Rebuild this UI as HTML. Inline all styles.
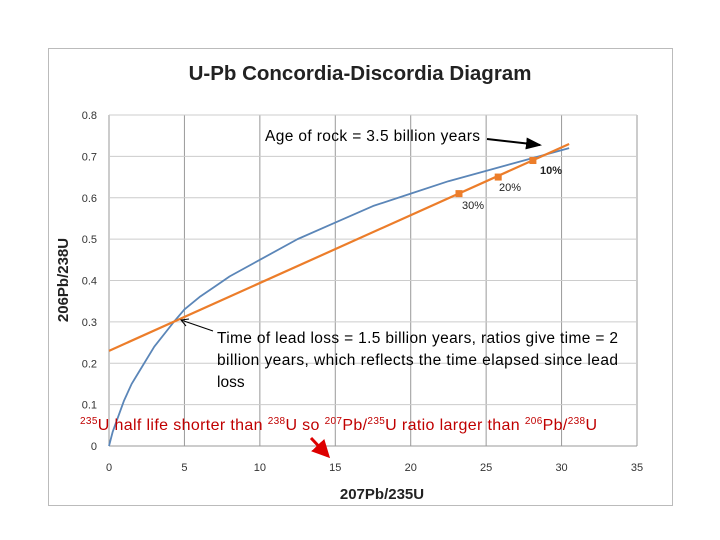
<!DOCTYPE html>
<html><head><meta charset="utf-8"><style>
body{margin:0;background:#fff;width:720px;height:540px;overflow:hidden;font-family:"Liberation Sans",sans-serif}
svg{position:absolute;left:0;top:0}
</style></head><body>
<svg width="720" height="540">
<defs>
<marker id="ah" markerWidth="8" markerHeight="8" refX="7" refY="4" orient="auto"><path d="M0,1 L8,4 L0,7 Z" fill="#000"/></marker>
<marker id="ahr" markerWidth="6" markerHeight="6" refX="5" refY="3" orient="auto"><path d="M0,0 L6,3 L0,6 Z" fill="#d00"/></marker>
</defs>
<rect x="48.5" y="48.5" width="624" height="457" fill="#fff" stroke="#bbb"/>
<text x="360" y="80" text-anchor="middle" font-size="20.5" font-weight="bold" fill="#222">U-Pb Concordia-Discordia Diagram</text>
<g id="grid"></g>
<g id="ticks" font-size="11" fill="#333"></g>
<g id="series"></g>
<text transform="translate(68,280) rotate(-90)" text-anchor="middle" font-size="15" font-weight="bold" fill="#222">206Pb/238U</text>
<text x="382" y="499" text-anchor="middle" font-size="15" font-weight="bold" fill="#222">207Pb/235U</text>
<text x="265" y="141" font-size="15.5" fill="#000" textLength="215">Age of rock = 3.5 billion years</text>
<line x1="487" y1="139" x2="540" y2="145" stroke="#000" stroke-width="2" marker-end="url(#ah)"/>
<text x="540" y="174" font-size="11" font-weight="bold" fill="#222">10%</text>
<text x="499" y="191" font-size="11" fill="#222">20%</text>
<text x="462" y="209" font-size="11" fill="#222">30%</text>
<g font-size="15.5" fill="#000">
<text x="217" y="343" textLength="401">Time of lead loss = 1.5 billion years, ratios give time = 2</text>
<text x="217" y="365" textLength="401">billion years, which reflects the time elapsed since lead</text>
<text x="217" y="387">loss</text>
</g>
<g>
<line x1="213" y1="331" x2="181" y2="320" stroke="#000" stroke-width="1"/>
<path d="M189,319 L181,320 L186,326" fill="none" stroke="#000" stroke-width="1"/>
</g>
<text x="80" y="430" font-size="16" fill="#c00000" textLength="517"><tspan font-size="10" dy="-6">235</tspan><tspan dy="6">U half life shorter than </tspan><tspan font-size="10" dy="-6">238</tspan><tspan dy="6">U so </tspan><tspan font-size="10" dy="-6">207</tspan><tspan dy="6">Pb/</tspan><tspan font-size="10" dy="-6">235</tspan><tspan dy="6">U ratio larger than </tspan><tspan font-size="10" dy="-6">206</tspan><tspan dy="6">Pb/</tspan><tspan font-size="10" dy="-6">238</tspan><tspan dy="6">U</tspan></text>
<line x1="311" y1="438" x2="328" y2="456" stroke="#d00" stroke-width="3" marker-end="url(#ahr)"/>
</svg>
<script>
const xTicks=[0,5,10,15,20,25,30,35];
const yTicks=[0,0.1,0.2,0.3,0.4,0.5,0.6,0.7,0.8];
const yTickLabels=["0","0.1","0.2","0.3","0.4","0.5","0.6","0.7","0.8"];
const concordiaX=[0,0.25,0.5,1,1.5,2,3,4.3,5,6,7,8,10,12.5,15,17.5,20,22.5,25,27.5,30.5];
const concordiaY=[0,0.035,0.06,0.11,0.15,0.18,0.24,0.3,0.33,0.36,0.385,0.41,0.45,0.5,0.54,0.58,0.61,0.64,0.665,0.69,0.72];
const discordiaX=[0,30.5];
const discordiaY=[0.23,0.73];
const markerX=[23.2,25.8,28.1];
const markerY=[0.61,0.65,0.69];
const X=v=>109+v*(637-109)/35;
const Y=v=>446-v*(446-115)/0.8;
const NS="http://www.w3.org/2000/svg";
function mk(t,a,p){const e=document.createElementNS(NS,t);for(const k in a)e.setAttribute(k,a[k]);p.appendChild(e);return e;}
const grid=document.getElementById('grid'),ticks=document.getElementById('ticks'),ser=document.getElementById('series');
xTicks.forEach(v=>{const l=mk('line',{x1:X(v),x2:X(v),y1:115,y2:446,stroke:'#999','stroke-width':1},grid);


const t=mk('text',{x:X(v),y:471,'text-anchor':'middle'},ticks);t.textContent=v;

});
yTicks.forEach((v,i)=>{const l=mk('line',{x1:109,x2:637,y1:Y(v),y2:Y(v),stroke:i==0?'#999':'#ccc','stroke-width':1},grid);


const t=mk('text',{x:97,y:Y(v)+4,'text-anchor':'end'},ticks);t.textContent=yTickLabels[i];

});
const c=mk('polyline',{points:concordiaX.map((x,i)=>X(x)+','+Y(concordiaY[i])).join(' '),fill:'none',stroke:'#5b86b8','stroke-width':1.8,'stroke-linejoin':'round'},ser);


const d=mk('polyline',{points:discordiaX.map((x,i)=>X(x)+','+Y(discordiaY[i])).join(' '),fill:'none',stroke:'#ec7d2a','stroke-width':2.2},ser);


markerX.forEach((x,i)=>{const r=mk('rect',{x:X(x)-3.5,y:Y(markerY[i])-3.5,width:7,height:7,fill:'#ec7d2a'},ser);

});
</script>
</body></html>
